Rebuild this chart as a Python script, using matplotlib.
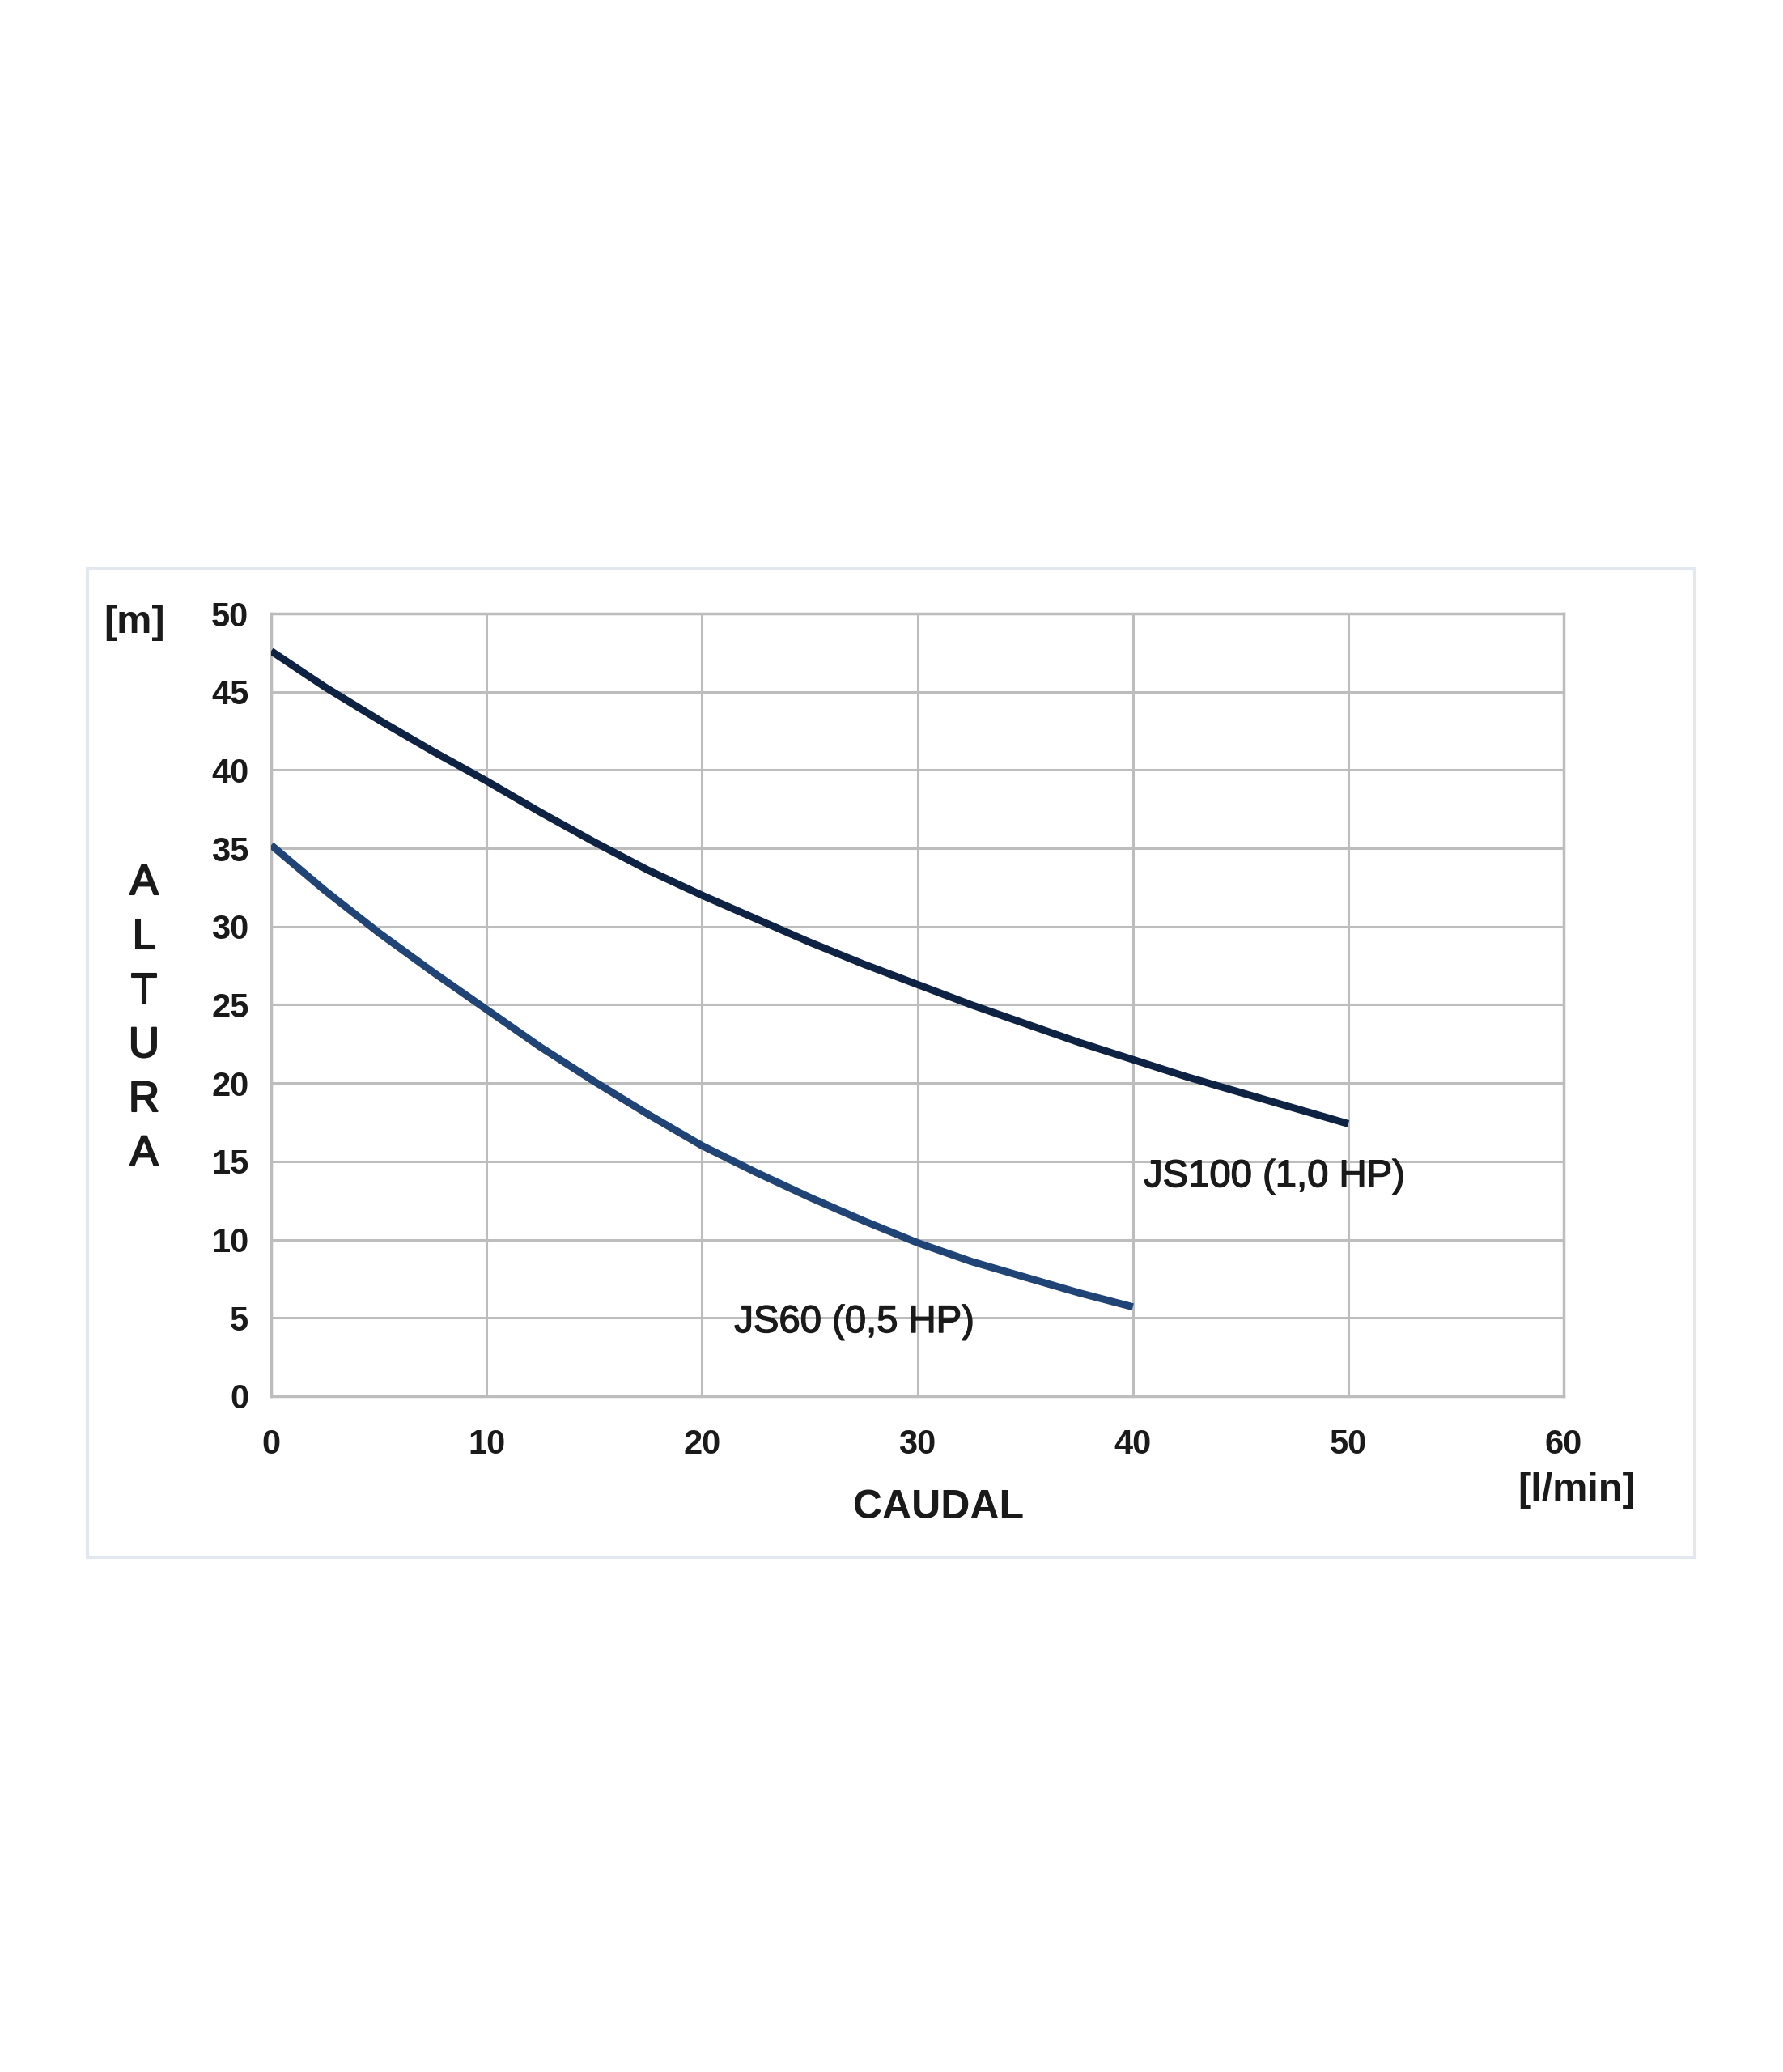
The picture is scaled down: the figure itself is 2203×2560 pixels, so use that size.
import matplotlib.pyplot as plt
import matplotlib.patheffects as pe
from matplotlib.patches import Rectangle

plt.rcParams['font.family'] = ['Liberation Sans', 'DejaVu Sans']

# caudal [l/min] vs altura [m]
caudal_100 = [0, 2.5, 5, 7.5, 10, 12.5, 15, 17.5, 20, 22.5, 25, 27.5, 30, 32.5, 35, 37.5, 40, 42.5, 45, 47.5, 50]
altura_100 = [47.6, 45.3, 43.2, 41.2, 39.3, 37.3, 35.4, 33.6, 32.0, 30.5, 29.0, 27.6, 26.3, 25.0, 23.8, 22.6,
              21.5, 20.4, 19.4, 18.4, 17.4]
caudal_60 = [0, 2.5, 5, 7.5, 10, 12.5, 15, 17.5, 20, 22.5, 25, 27.5, 30, 32.5, 35, 37.5, 40]
altura_60 = [35.2, 32.3, 29.6, 27.1, 24.7, 22.3, 20.1, 18.0, 16.0, 14.3, 12.7, 11.2, 9.8, 8.6, 7.6, 6.6, 5.7]

xticks = [0, 10, 20, 30, 40, 50, 60]
yticks = [0, 5, 10, 15, 20, 25, 30, 35, 40, 45, 50]

fig = plt.figure(figsize=(22.03, 25.6), dpi=100)
fig.patch.set_facecolor('white')

# light frame round the chart
fig.add_artist(Rectangle((0.049, 0.2484), 0.9015, 0.4774, transform=fig.transFigure,
                         fill=False, edgecolor='#e3e8ef', linewidth=3))

ax = fig.add_axes([0.1521, 0.3262, 0.7249, 0.3777])
ax.plot(caudal_100, altura_100, color='#0e2244', linewidth=6.5, solid_capstyle='butt',
        solid_joinstyle='round', zorder=3)
ax.plot(caudal_60, altura_60, color='#1f4475', linewidth=6.5, solid_capstyle='butt',
        solid_joinstyle='round', zorder=3)

ax.set_xlim(0, 60)
ax.set_ylim(0, 50)
ax.set_xticks(xticks)
ax.set_yticks(yticks)
ax.grid(True, color='#bdbdbd', linewidth=2.2)
ax.set_axisbelow(True)
for s in ax.spines.values():
    s.set_color('#bdbdbd')
    s.set_linewidth(2.5)
ax.tick_params(length=0, labelsize=30)
ax.tick_params(axis='y', pad=20)
ax.tick_params(axis='x', pad=29)
for lab in ax.get_xticklabels() + ax.get_yticklabels():
    lab.set_fontweight('bold')
    lab.set_color('#1a1a1a')

thick = [pe.withStroke(linewidth=1.0, foreground='#1a1a1a')]
ax.text(40.5, 14.0, 'JS100 (1,0 HP)', fontsize=34, va='center', ha='left', color='#1a1a1a',
        path_effects=thick)
ax.text(21.5, 4.7, 'JS60 (0,5 HP)', fontsize=34, va='center', ha='left', color='#1a1a1a',
        path_effects=thick)

# axis labels
fig.text(166 / 2203, 1 - 770 / 2560, '[m]', fontsize=35, fontweight='bold', ha='center', va='center', color='#1a1a1a')
letters = 'ALTURA'
for i, ch in enumerate(letters):
    fig.text(178 / 2203, 1 - (1091 + i * 67) / 2560, ch, fontsize=38, ha='center', va='center',
             color='#1a1a1a', path_effects=[pe.withStroke(linewidth=1.5, foreground='#1a1a1a')])
fig.text(1160 / 2203, 1 - 1863 / 2560, 'CAUDAL', fontsize=36, fontweight='bold', ha='center', va='center', color='#1a1a1a')
fig.text(1948 / 2203, 1 - 1842 / 2560, '[l/min]', fontsize=35, fontweight='bold', ha='center', va='center', color='#1a1a1a')

fig.savefig('out.png', dpi=100)
